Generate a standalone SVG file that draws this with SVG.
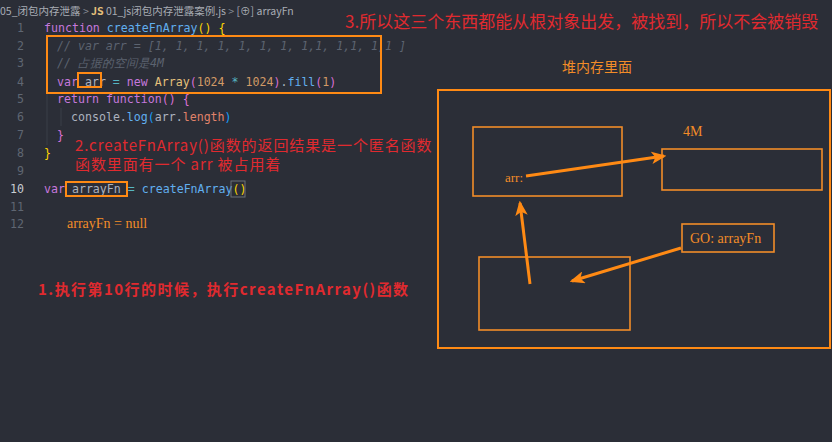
<svg xmlns="http://www.w3.org/2000/svg" width="832" height="442" viewBox="0 0 832 442">
<defs>
<style>
.code{font-family:"DejaVu Sans Mono","Liberation Mono",monospace;font-size:11.6px;fill:#abb2bf;white-space:pre}
.ln{font-family:"DejaVu Sans Mono","Liberation Mono",monospace;font-size:11.6px;fill:#5f6672;text-anchor:end}
.kw{fill:#c678dd}.fn{fill:#61afef}.ty{fill:#e5c07b}.num{fill:#d19a66}.op{fill:#56b6c2}.pr{fill:#e0826a}
.b1{fill:#ffd700}.b2{fill:#da70d6}.b3{fill:#179fff}
.cm{fill:#5c6370;font-style:italic}
.red{font-family:"Noto Sans CJK SC","Noto Sans",sans-serif;fill:#e02a2f}
.ser{font-family:"Liberation Serif","Noto Sans CJK SC",serif;fill:#f28c28}
.box{fill:none;stroke:#ff8a14;stroke-width:2}
.thin{fill:none;stroke:#f28c28;stroke-width:1.6}
.arrow{fill:none;stroke:#ff8a14;stroke-width:3;marker-end:url(#ah)}
.crumb{font-family:"Noto Sans CJK SC","Noto Sans",sans-serif;font-size:10.5px;fill:#a8acb4}
</style>
<marker id="ah" viewBox="0 0 12 10" refX="10" refY="5" markerWidth="5" markerHeight="4.2" orient="auto" markerUnits="strokeWidth">
<path d="M0,0 L12,5 L0,10 L3,5 Z" fill="#ff8a14"/>
</marker>
</defs>
<rect width="832" height="442" fill="#2b2e37"/>

<g id="breadcrumb">
<text class="crumb" x="0" y="15">05_闭包内存泄露 <tspan fill="#8a8f98">&gt;</tspan> <tspan fill="#e5c07b" font-weight="bold">JS</tspan> 01_js闭包内存泄露案例.js <tspan fill="#8a8f98">&gt;</tspan> [⊕] arrayFn</text>
</g>

<g id="editor">
<text class="ln" x="24" y="32">1</text>
<text class="ln" x="24" y="50">2</text>
<text class="ln" x="24" y="67">3</text>
<text class="ln" x="24" y="86">4</text>
<text class="ln" x="24" y="103">5</text>
<text class="ln" x="24" y="121">6</text>
<text class="ln" x="24" y="139">7</text>
<text class="ln" x="24" y="157">8</text>
<text class="ln" x="24" y="175">9</text>
<text class="ln" x="24" y="193" style="fill:#c8ccd2">10</text>
<text class="ln" x="24" y="211">11</text>
<text class="ln" x="24" y="228">12</text>

<line x1="47" y1="38" x2="47" y2="145" stroke="#3b3f48" stroke-width="1"/>
<line x1="61" y1="108" x2="61" y2="126" stroke="#3b3f48" stroke-width="1"/>

<text class="code" x="44" y="32"><tspan class="kw">function</tspan> <tspan class="fn">createFnArray</tspan><tspan class="b1">()</tspan> <tspan class="b1">{</tspan></text>
<text class="code cm" x="57" y="50">// var arr = [1, 1, 1, 1, 1, 1, 1, 1,1, 1,1, 1,1 ]</text>
<text class="code cm" x="57" y="67">// 占据的空间是4M</text>
<text class="code" x="57" y="86"><tspan class="kw">var</tspan> arr <tspan class="op">=</tspan> <tspan class="kw">new</tspan> <tspan class="ty">Array</tspan><tspan class="b2">(</tspan><tspan class="num">1024</tspan> <tspan class="op">*</tspan> <tspan class="num">1024</tspan><tspan class="b2">)</tspan>.<tspan class="fn">fill</tspan><tspan class="b2">(</tspan><tspan class="num">1</tspan><tspan class="b2">)</tspan></text>
<text class="code" x="57" y="103"><tspan class="kw">return</tspan> <tspan class="kw">function</tspan><tspan class="b2">()</tspan> <tspan class="b2">{</tspan></text>
<text class="code" x="71" y="121">console.<tspan class="fn">log</tspan><tspan class="b3">(</tspan>arr.<tspan class="pr">length</tspan><tspan class="b3">)</tspan></text>
<text class="code b2" x="57" y="139">}</text>
<text class="code b1" x="44" y="157">}</text>
<text class="code" x="44" y="193"><tspan class="kw">var</tspan> arrayFn <tspan class="op">=</tspan> <tspan class="fn">createFnArray</tspan><tspan class="b1">()</tspan></text>
<rect x="231" y="181" width="14" height="16" fill="none" stroke="#6b707a" stroke-width="1"/>
<text class="ser" x="67" y="228" font-size="14">arrayFn = null</text>
</g>

<g id="highlights">
<rect class="box" x="47" y="36" width="334" height="57"/>
<rect class="box" x="78" y="73" width="23" height="14"/>
<rect class="box" x="66" y="182" width="61" height="14"/>
</g>

<g id="notes">
<text class="red" x="345" y="28" font-size="17">3.所以这三个东西都能从根对象出发，被找到，所以不会被销毁</text>
<text class="red" x="75" y="151" font-size="15" letter-spacing="0.9">2.createFnArray()函数的返回结果是一个匿名函数</text>
<text class="red" x="75" y="170" font-size="15" letter-spacing="0.9">函数里面有一个 arr 被占用着</text>
<text class="red" x="38" y="295" font-size="15" font-weight="bold" letter-spacing="1.45">1.执行第10行的时候，执行createFnArray()函数</text>
</g>

<g id="heap">
<text x="562" y="72" font-family="Noto Sans CJK SC,sans-serif" font-size="14" fill="#f28c28">堆内存里面</text>
<rect class="box" x="438" y="90" width="392" height="258"/>
</g>
<g id="node-arr">
<rect class="thin" x="473" y="127" width="149" height="69"/>
<text class="ser" x="505" y="182" font-size="13">arr:</text>
</g>
<g id="node-4m">
<text class="ser" x="683" y="136" font-size="14">4M</text>
<rect class="thin" x="662" y="149" width="160" height="41"/>
</g>
<g id="node-fn">
<rect class="thin" x="479" y="257" width="151" height="73"/>
</g>
<g id="node-go">
<rect class="thin" x="682" y="224" width="92" height="28"/>
<text class="ser" x="690" y="243" font-size="14">GO: arrayFn</text>
</g>

<g id="connectors">
<line class="arrow" x1="526" y1="176" x2="664" y2="156"/>
<line class="arrow" x1="530" y1="284" x2="520" y2="203"/>
<line class="arrow" x1="681" y1="248" x2="572" y2="281"/>
</g>
</svg>
